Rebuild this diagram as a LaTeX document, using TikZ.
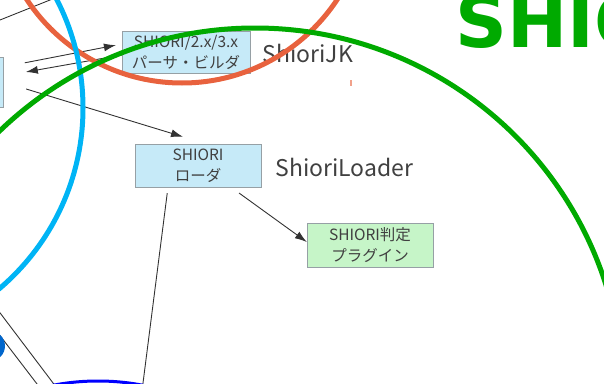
\documentclass[tikz,border=0pt]{standalone}
\usepackage{fontspec}
\setmainfont{Noto Sans CJK JP}
\newfontfamily\titlefont{DejaVu Sans}
\usetikzlibrary{arrows.meta}
\definecolor{boxblue}{RGB}{198,234,248}
\definecolor{plugreen}{RGB}{198,245,200}
\definecolor{boxgray}{RGB}{150,160,165}
\definecolor{boxtext}{RGB}{64,64,64}
\definecolor{linegray}{RGB}{50,50,50}
\definecolor{ringorange}{RGB}{232,98,62}
\definecolor{ringcyan}{RGB}{0,180,245}
\definecolor{ringgreen}{RGB}{0,170,0}
\definecolor{ringblue}{RGB}{0,102,204}

\begin{document}
\begin{tikzpicture}[x=1pt,y=-1pt,
  box/.style={draw=boxgray,fill=boxblue,text=boxtext,align=center,
    minimum width=126pt,minimum height=43pt,inner sep=1pt,
    font=\fontsize{15.5}{21}\selectfont},
  plug/.style={box,fill=plugreen},
  lbl/.style={anchor=west,text=boxtext,font=\fontsize{23}{26}\selectfont},
  arr/.style={draw=linegray,line width=0.9pt,-{Latex[length=12pt,width=8pt]}},
  ln/.style={draw=linegray,line width=0.9pt},
  ring/.style={line width=5pt}]
  \clip (0,0) rectangle (604,383);
  % boxes
  \node[box,minimum width=63pt,minimum height=50pt] (left) at (-28.5,82) {};
  \node[box,minimum width=128pt,minimum height=42pt] (jk) at (186,52)
    {SHIORI/2.x/3.x\\パーサ・ビルダ};
  \node[lbl] (jklbl) at (259,53) {ShioriJK};
  \node[box] (loader) at (198,165.5) {SHIORI\\ローダ};
  \node[lbl] (loaderlbl) at (272,167) {ShioriLoader};
  \node[plug,minimum height=44pt] (plugin) at (370,245) {SHIORI判定\\プラグイン};
  \node[anchor=base west,text=ringgreen,
    font=\titlefont\bfseries\fontsize{72}{72}\selectfont] (title) at (452,47) {SHIORI};
  % connectors
  \draw[arr,shorten <=22pt,shorten >=6pt] ([yshift=15pt]left.east) -- ([yshift=8pt]jk.west);
  \draw[arr,shorten >=23pt] ([yshift=-3pt]jk.west) -- ([yshift=6pt]left.east);
  \draw[arr,shorten <=24pt,shorten >=24pt] (left.east) -- ([xshift=8pt]loader.north);
  \draw[arr,shorten <=10pt] ([xshift=33pt]loader.south) -- ([yshift=3pt]plugin.west);
  \coordinate (loaderout) at (137,430);
  \draw[ln,shorten <=6pt] ([xshift=-30pt]loader.south) -- (loaderout);
  % lines from outside the view
  \coordinate (topa) at (-20,28);
  \coordinate (topb) at (70,-8);
  \draw[ln] (topa) -- (topb);
  \coordinate (lowa) at (-15,293);
  \coordinate (lowb) at (75,412);
  \draw[ln] (lowa) -- (lowb);
  \coordinate (lowc) at (-15,316);
  \coordinate (lowd) at (60,414);
  \draw[ln] (lowc) -- (lowd);
  % rings
  \draw[ring,draw=ringorange] (182,-103) circle[radius=186];
  \draw[ring,draw=ringcyan] (-154,108) circle[radius=237];
  \draw[ring,draw=ringgreen] (255,396) circle[radius=368];
  \fill[ringblue] (-10,346) circle[radius=15];
  \draw[line width=3pt,draw=blue] (98,440) ellipse[x radius=120,y radius=59];
  \draw[draw=ringorange!60,line width=1.2pt] (351,80) -- (351,86);
\end{tikzpicture}
\end{document}
